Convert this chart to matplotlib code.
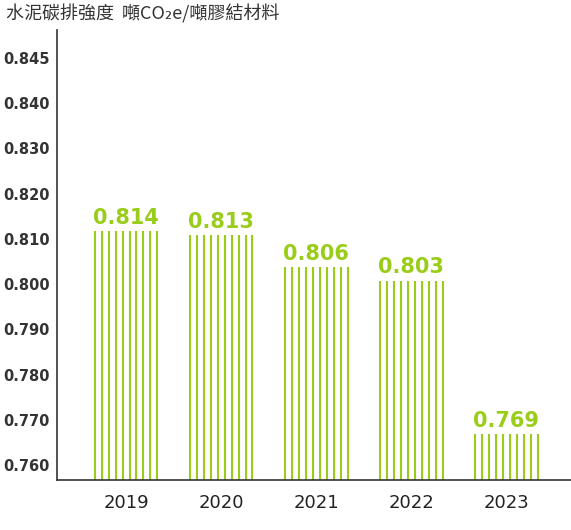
import numpy as np
import matplotlib
matplotlib.use("Agg")
import matplotlib.pyplot as plt

plt.rcParams['font.family'] = ['Noto Sans CJK TC', 'DejaVu Sans']

years = ["2019", "2020", "2021", "2022", "2023"]
values = [0.814, 0.813, 0.806, 0.803, 0.769]
tick_vals = [0.760, 0.770, 0.780, 0.790, 0.800, 0.810, 0.820, 0.830, 0.840, 0.850]
tick_labels = ["0.760", "0.770", "0.780", "0.790", "0.800", "0.810",
               "0.820", "0.830", "0.840", "0.845"]
title = "水泥碳排強度  噸CO₂e/噸膠結材料"

green = "#9acd1a"
dark = "#333333"
base = 0.7567

fig = plt.figure(figsize=(5.71, 5.30), dpi=100)
ax = fig.add_axes([57 / 571, 50 / 530, 514 / 571, 450 / 530])

xs = np.arange(len(years))
n_lines = 10
half = 0.33
for x, v in zip(xs, values):
    offs = np.linspace(-half, half, n_lines)
    ax.vlines(x + offs, base, v - 0.0022, color=green, lw=1.5)
    ax.text(x, v - 0.0015, f"{v:.3f}", ha="center", va="bottom",
            color=green, fontsize=15, fontweight="bold", family="DejaVu Sans")

ax.set_xlim(-0.726, 4.68)
ax.set_ylim(base, 0.8562)
ax.set_yticks(tick_vals)
ax.set_yticklabels(tick_labels, fontsize=10.5, fontweight="bold", color=dark,
                   family="DejaVu Sans")
ax.set_xticks(xs)
ax.set_xticklabels(years, fontsize=13, color="#222222", family="DejaVu Sans")
ax.tick_params(axis="y", length=0, pad=5)
ax.tick_params(axis="x", length=0, pad=10)
for s in ["top", "right"]:
    ax.spines[s].set_visible(False)
for s in ["left", "bottom"]:
    ax.spines[s].set_color(dark)
    ax.spines[s].set_linewidth(1.2)

fig.text(6 / 571, 1 - 14 / 530, title, fontsize=13, color="#333333", va="center")

fig.savefig("out.png", dpi=100)
